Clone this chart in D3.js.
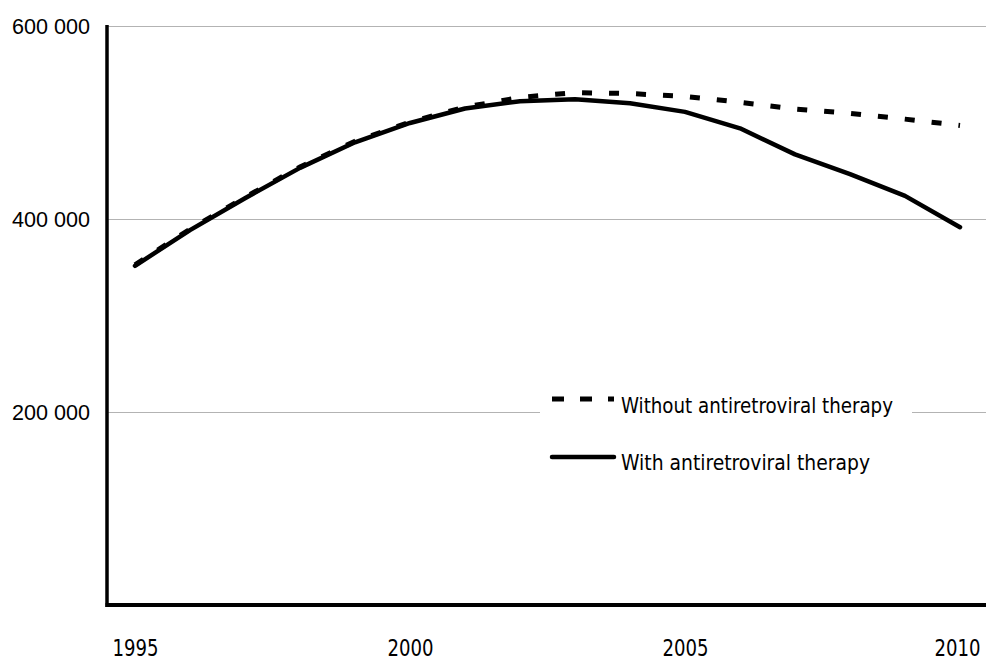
<!DOCTYPE html>
<html>
<head>
<meta charset="utf-8">
<script src="https://cdn.jsdelivr.net/npm/d3@7"></script>
<style>
  html, body { margin: 0; padding: 0; background: #fff; }
  svg { display: block; }
  .ylab { font-family: "Liberation Sans", Arial, sans-serif; font-size: 22px; }
  .cond { font-family: "Liberation Sans Narrow", "DejaVu Sans Condensed", "Liberation Sans", sans-serif; font-size: 22px; }
  .xlab { font-family: "Liberation Sans Narrow", "DejaVu Sans Condensed", "Liberation Sans", sans-serif; font-size: 23px; }
</style>
</head>
<body>
<svg id="chart" width="986" height="661"></svg>
<script>
// ---- data ----
const years = [1995,1996,1997,1998,1999,2000,2001,2002,2003,2004,2005,2006,2007,2008,2009,2010];
const withoutART = [352500,389500,422500,454000,480500,500500,516000,526000,531000,530000,527000,521000,514000,509500,503500,497000];
const withART    = [351500,388500,421500,453000,479500,499500,514500,522000,524000,520000,511000,494000,467000,446500,424000,391500];
const yTicks = [200000, 400000, 600000];
const xTicks = [1995, 2000, 2005, 2010];
const seriesNames = ["Without antiretroviral therapy", "With antiretroviral therapy"];

// ---- layout ----
const W = 986, H = 661;
const axisX = 107, axisY = 605, topY = 26;
const svg = d3.select("#chart");

const x = d3.scaleLinear().domain([1995, 2010]).range([135, 960]);
const y = d3.scaleLinear().domain([0, 600000]).range([axisY, topY]);

const loc = d3.formatLocale({decimal: ",", thousands: " ", grouping: [3], currency: ["", ""]});
const fmt = loc.format(",d");

// gridlines
svg.append("g").selectAll("line").data(yTicks).join("line")
  .attr("x1", axisX).attr("x2", W)
  .attr("y1", d => Math.round(y(d)) + 0.5).attr("y2", d => Math.round(y(d)) + 0.5)
  .attr("stroke", "#b3b3b3").attr("stroke-width", 1);

// y axis labels
const yAxis = d3.axisLeft(y).tickValues(yTicks).tickSize(0).tickPadding(17).tickFormat(fmt);
const gy = svg.append("g").attr("transform", `translate(${axisX},0)`).call(yAxis)
  .attr("font-family", null).attr("font-size", null);
gy.select(".domain").remove();
gy.selectAll("text").attr("class", "ylab").attr("fill", "#000").attr("dy", "0.36em")
  .attr("textLength", 78).attr("lengthAdjust", "spacingAndGlyphs");

// x axis labels
const xAxis = d3.axisBottom(x).tickValues(xTicks).tickSize(0).tickPadding(35).tickFormat(d3.format("d"));
const gx = svg.append("g").attr("transform", `translate(0,${axisY})`).call(xAxis)
  .attr("font-family", null).attr("font-size", null);
gx.select(".domain").remove();
gx.selectAll("text").attr("class", "xlab").attr("fill", "#000")
  .attr("textLength", 46).attr("lengthAdjust", "spacingAndGlyphs")
  .attr("dx", d => d === 2010 ? -3 : 0);

// legend background (masks gridline)
svg.append("rect").attr("x", 540).attr("y", 384).attr("width", 372).attr("height", 100).attr("fill", "#fff");

// lines
const line = d3.line().x((d, i) => x(years[i])).y(d => y(d));
svg.append("path").datum(withoutART)
  .attr("d", line).attr("fill", "none").attr("stroke", "#000")
  .attr("stroke-width", 5).attr("stroke-dasharray", "10,17");
svg.append("path").datum(withART)
  .attr("d", line).attr("fill", "none").attr("stroke", "#000")
  .attr("stroke-width", 4.5).attr("stroke-linejoin", "round").attr("stroke-linecap", "round");

// axes lines
svg.append("line").attr("x1", axisX).attr("x2", axisX).attr("y1", topY - 1).attr("y2", axisY + 2)
  .attr("stroke", "#000").attr("stroke-width", 3.5);
svg.append("line").attr("x1", axisX - 1.5).attr("x2", W).attr("y1", axisY).attr("y2", axisY)
  .attr("stroke", "#000").attr("stroke-width", 4);

// legend
const legend = svg.append("g");
const legRows = [
  {name: seriesNames[0], dash: "12,16", sw: 5, ly: 399, ty: 413, tl: 272},
  {name: seriesNames[1], dash: null, sw: 4.5, ly: 457, ty: 470, tl: 249}
];
legRows.forEach(r => {
  const l = legend.append("line").attr("x1", 552).attr("x2", 614).attr("y1", r.ly).attr("y2", r.ly)
    .attr("stroke", "#000").attr("stroke-width", r.sw);
  if (r.dash) l.attr("stroke-dasharray", r.dash);
  else l.attr("stroke-linecap", "round");
  legend.append("text").attr("class", "cond").attr("x", 621).attr("y", r.ty).text(r.name)
    .attr("fill", "#000")
    .attr("textLength", r.tl).attr("lengthAdjust", "spacingAndGlyphs");
});
</script>
</body>
</html>
